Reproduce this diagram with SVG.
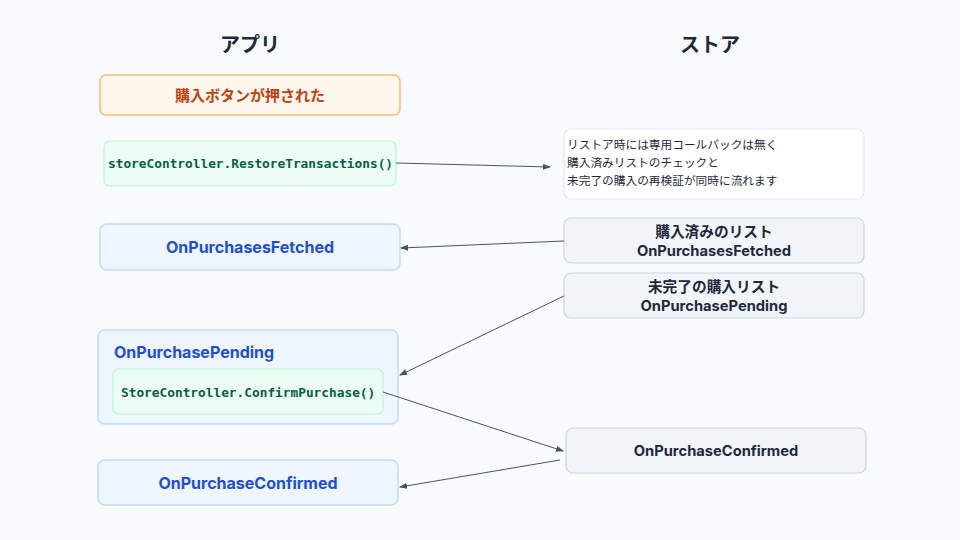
<svg xmlns="http://www.w3.org/2000/svg" width="960" height="540" viewBox="0 0 960 540">
<defs>
<marker id="arr" markerWidth="8" markerHeight="6" refX="7" refY="3" orient="auto" markerUnits="userSpaceOnUse">
<path d="M0,0 L8,3 L0,6 Z" fill="#475569"/>
</marker>
<style>
.title{font-family:Inter,"Noto Sans CJK JP",sans-serif;font-weight:700;font-size:20px;fill:#1e293b;text-anchor:middle}
.app{fill:#eff6ff;stroke:#bfdbfe;stroke-width:1.5}
.appt{font-family:Inter,"Noto Sans CJK JP",sans-serif;font-weight:700;font-size:16px;fill:#1d4ed8}
.code{fill:#ecfdf5;stroke:#bbf7d0;stroke-width:1.2}
.codet{font-family:"DejaVu Sans Mono","Liberation Mono",monospace;font-weight:700;font-size:12.8px;fill:#065f46}
.store{fill:#f1f5f9;stroke:#cbd5e1;stroke-width:1.2}
.storet{font-family:Inter,"Noto Sans CJK JP",sans-serif;font-weight:700;font-size:14.7px;fill:#1e293b;text-anchor:middle}
.note{fill:#ffffff;stroke:#e2e8f0;stroke-width:1.2}
.notet{font-family:"Noto Sans CJK JP",sans-serif;font-size:11.7px;fill:#1e293b}
.conn{stroke:#475569;stroke-width:1;fill:none;marker-end:url(#arr)}
</style>
</defs>
<rect width="960" height="540" fill="#f8fafc"/>
<text class="title" x="250" y="52">アプリ</text>
<text class="title" x="710" y="52">ストア</text>

<g id="button-pressed">
<rect x="100" y="75" width="300" height="40" rx="6" fill="#fff7ed" stroke="#fdba74" stroke-width="1.5"/>
<text x="250" y="101" text-anchor="middle" font-family="Inter,'Noto Sans CJK JP',sans-serif" font-weight="700" font-size="15px" fill="#c2410c">購入ボタンが押された</text>
</g>

<g id="restore-call">
<rect class="code" x="104" y="141" width="292" height="45" rx="6"/>
<text class="codet" x="108" y="168">storeController.RestoreTransactions()</text>
</g>

<g id="note">
<rect class="note" x="564" y="129" width="300" height="70" rx="7"/>
<text class="notet" x="567" y="149">リストア時には専用コールバックは無く</text>
<text class="notet" x="567" y="167">購入済みリストのチェックと</text>
<text class="notet" x="567" y="185">未完了の購入の再検証が同時に流れます</text>
</g>

<g id="app-fetched">
<rect class="app" x="100" y="224" width="300" height="46" rx="7"/>
<text class="appt" x="250" y="253" text-anchor="middle">OnPurchasesFetched</text>
</g>

<g id="store-fetched">
<rect class="store" x="564" y="218" width="300" height="45" rx="7"/>
<text class="storet" x="714" y="237">購入済みのリスト</text>
<text class="storet" x="714" y="256">OnPurchasesFetched</text>
</g>

<g id="store-pending">
<rect class="store" x="564" y="273" width="300" height="45" rx="7"/>
<text class="storet" x="714" y="292">未完了の購入リスト</text>
<text class="storet" x="714" y="311">OnPurchasePending</text>
</g>

<g id="app-pending">
<rect class="app" x="98" y="330" width="300" height="94" rx="7"/>
<text class="appt" x="114" y="358">OnPurchasePending</text>
<g id="confirm-call">
<rect class="code" x="113" y="369" width="270" height="45" rx="5"/>
<text class="codet" x="121" y="397">StoreController.ConfirmPurchase()</text>
</g>
</g>

<g id="store-confirmed">
<rect class="store" x="566" y="428" width="300" height="45" rx="7"/>
<text class="storet" x="716" y="456">OnPurchaseConfirmed</text>
</g>

<g id="app-confirmed">
<rect class="app" x="98" y="460" width="300" height="45" rx="7"/>
<text class="appt" x="248" y="489" text-anchor="middle">OnPurchaseConfirmed</text>
</g>

<g id="connectors">
<line class="conn" x1="396" y1="163" x2="550" y2="167"/>
<line class="conn" x1="564" y1="241" x2="401" y2="248"/>
<line class="conn" x1="564" y1="296" x2="400" y2="375"/>
<line class="conn" x1="383" y1="392" x2="563" y2="451"/>
<line class="conn" x1="560" y1="460" x2="400" y2="487"/>
</g>
</svg>
